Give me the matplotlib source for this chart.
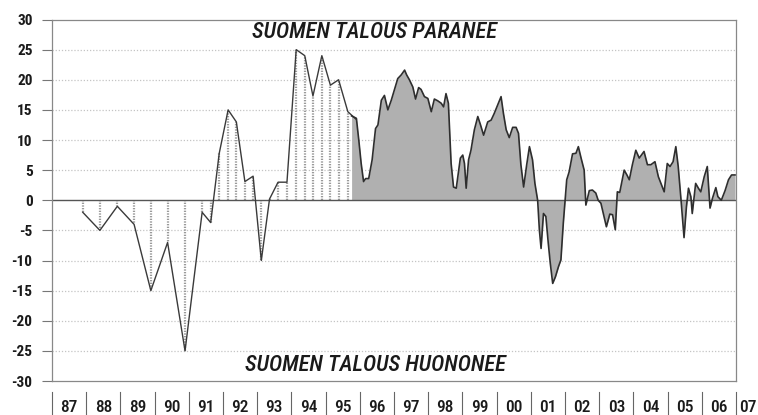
import matplotlib
matplotlib.use("Agg")
import matplotlib.pyplot as plt
import matplotlib.transforms as mtransforms

plt.rcParams['font.family'] = ['Roboto Condensed', 'DejaVu Sans']

# half-year / quarterly survey (1987-1995)
early_x = [1987.90, 1988.40, 1988.91, 1989.40, 1989.89, 1990.38, 1990.89, 1991.39,
           1991.64, 1991.89, 1992.15, 1992.39, 1992.64, 1992.88, 1993.12, 1993.36,
           1993.61, 1993.87, 1994.14, 1994.39, 1994.63, 1994.89, 1995.14, 1995.38,
           1995.65, 1995.88]
early_y = [-2, -5, -1, -4, -15, -7, -25, -2,
           -3.7, 7.8, 15, 13, 3.1, 4, -10, 0.2,
           3, 3, 25, 24, 17.3, 24, 19.1, 20,
           14.7, 13.5]

# monthly survey (1996-2006)
month_x = [1995.76, 1995.90, 1995.97, 1996.04, 1996.11, 1996.17, 1996.26, 1996.36, 1996.46, 1996.53,
           1996.63, 1996.72, 1996.82, 1996.92, 1997.01, 1997.11, 1997.21, 1997.31, 1997.37, 1997.45,
           1997.55, 1997.63, 1997.72, 1997.79, 1997.89, 1997.99, 1998.09, 1998.18, 1998.28, 1998.38,
           1998.45, 1998.52, 1998.59, 1998.67, 1998.74, 1998.82, 1998.88, 1998.94, 1999.01, 1999.06,
           1999.11, 1999.18, 1999.25, 1999.35, 1999.45, 1999.53, 1999.62, 1999.74, 1999.84, 1999.93,
           2000.03, 2000.13, 2000.20, 2000.28, 2000.37, 2000.47, 2000.57, 2000.64, 2000.71, 2000.79,
           2000.88, 2000.96, 2001.05, 2001.12, 2001.20, 2001.25, 2001.30, 2001.37, 2001.44, 2001.51,
           2001.57, 2001.64, 2001.72, 2001.81, 2001.88, 2001.95, 2002.05, 2002.12, 2002.22, 2002.32,
           2002.39, 2002.47, 2002.56, 2002.61, 2002.71, 2002.80, 2002.90, 2002.97, 2003.05, 2003.12,
           2003.21, 2003.31, 2003.39, 2003.47, 2003.53, 2003.60, 2003.73, 2003.81, 2003.88, 2003.97,
           2004.07, 2004.17, 2004.31, 2004.41, 2004.51, 2004.63, 2004.73, 2004.90, 2004.99, 2005.07,
           2005.16, 2005.24, 2005.31, 2005.39, 2005.48, 2005.55, 2005.61, 2005.68, 2005.72, 2005.82,
           2005.90, 2005.97, 2006.07, 2006.16, 2006.24, 2006.31, 2006.41, 2006.47, 2006.57, 2006.68,
           2006.78, 2006.87, 2006.97]
month_y = [14.0, 13.6, 10.0, 6.1, 3.1, 3.6, 3.6, 6.7, 11.9, 12.5,
           16.6, 17.4, 15.0, 16.6, 18.3, 20.2, 20.8, 21.6, 20.8, 20.0,
           18.8, 16.8, 18.7, 18.4, 17.2, 16.9, 14.7, 16.8, 16.5, 16.1,
           15.5, 17.7, 16.1, 6.1, 2.2, 2.0, 4.5, 7.0, 7.5, 6.1,
           2.0, 6.7, 8.3, 11.7, 13.9, 12.5, 10.8, 13.0, 13.3, 14.4,
           15.8, 17.2, 14.4, 11.7, 10.4, 12.1, 12.1, 11.1, 5.9, 2.2,
           5.9, 8.9, 6.7, 2.8, 0.0, -4.9, -8.0, -2.2, -2.7, -7.1,
           -10.5, -13.8, -12.7, -11.0, -9.9, -3.8, 3.4, 4.7, 7.7, 7.8,
           8.9, 7.0, 5.0, -0.8, 1.6, 1.7, 1.2, 0.0, -0.5, -2.2,
           -4.4, -2.3, -2.4, -4.9, 1.4, 1.3, 5.0, 4.2, 3.4, 5.9,
           8.3, 7.0, 8.1, 5.9, 5.9, 6.4, 3.9, 1.4, 6.1, 5.6,
           6.4, 8.9, 5.6, 0.2, -6.2, -1.1, 2.0, 0.6, -2.2, 2.8,
           2.0, 1.4, 3.9, 5.6, -1.3, 0.3, 2.1, 0.6, 0.0, 1.6,
           3.4, 4.2, 4.2]

years = list(range(1987, 2008))
year_labels = ['87', '88', '89', '90', '91', '92', '93', '94', '95', '96',
               '97', '98', '99', '00', '01', '02', '03', '04', '05', '06', '07']
y_ticks = list(range(-30, 31, 5))

fig = plt.figure(figsize=(7.58, 4.15), dpi=100)
ax = fig.add_axes([0.0686, 0.0819, 0.9024, 0.8711])

# grid
for v in y_ticks:
    if v in (-30, 0, 30):
        continue
    ax.axhline(v, color='#c4c4c4', lw=0.9, ls=(0, (1, 1.5)), zorder=0)

# early series: drop lines + line
ax.vlines(early_x, 0, early_y, colors='#9a9a9a', lw=1.6, linestyles=(0, (0.6, 0.6)), zorder=1)
ax.plot(early_x, early_y, color='#3a3a3a', lw=1.0, zorder=3)

# monthly series: filled area
ax.fill_between(month_x, 0, month_y, color='#b0b0b0', lw=0, zorder=2)
ax.plot(month_x, month_y, color='#2e2e2e', lw=1.2, zorder=3)

ax.axhline(0, color='#555555', lw=1.0, zorder=2)

ax.set_xlim(1987, 2007)
ax.set_ylim(-30, 30)

ax.set_yticks(y_ticks)
ax.set_yticklabels([str(v) for v in y_ticks], fontsize=11, fontweight='bold', color='#1a1a1a')
ax.tick_params(axis='y', direction='out', length=7, width=0.8, color='#777777', pad=7)

ax.set_xticks([])
trans = mtransforms.blended_transform_factory(ax.transData, ax.transAxes)
for yr, lab in zip(years, year_labels):
    ax.plot([yr, yr], [-0.03, -0.10], transform=trans, color='#666666', lw=0.8, clip_on=False)
    if yr == 2007:
        ax.text(yr + 0.08, -0.072, lab, transform=trans, ha='left', va='center',
                fontsize=12.5, fontweight='medium', color='#1a1a1a', clip_on=False)
    else:
        ax.text(yr + 0.5, -0.072, lab, transform=trans, ha='center', va='center',
                fontsize=12.5, fontweight='medium', color='#1a1a1a', clip_on=False)

for s in ax.spines.values():
    s.set_color('#888888')
    s.set_linewidth(0.9)

ax.text(1996.42, 27.8, 'SUOMEN TALOUS PARANEE', ha='center', va='center',
        fontsize=16.2, style='italic', fontweight='medium', color='#1a1a1a')
ax.text(1996.47, -27.5, 'SUOMEN TALOUS HUONONEE', ha='center', va='center',
        fontsize=16.2, style='italic', fontweight='medium', color='#1a1a1a')

fig.savefig('out.png', dpi=100)
